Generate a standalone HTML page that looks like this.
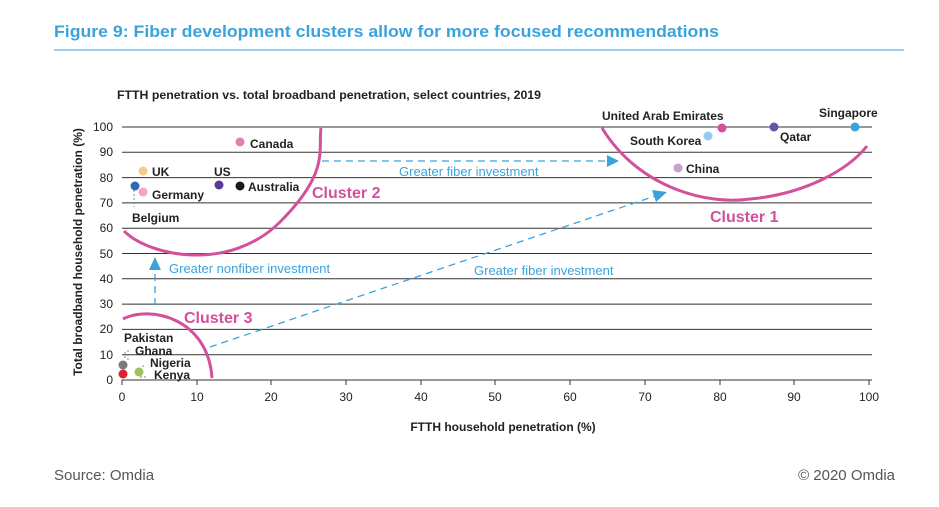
<!DOCTYPE html>
<html><head><meta charset="utf-8"><style>
body{margin:0;background:#fff;font-family:"Liberation Sans",sans-serif}
</style></head><body>
<svg width="939" height="502" xmlns="http://www.w3.org/2000/svg" font-family="Liberation Sans, sans-serif">
<text x="54" y="37" font-size="17" font-weight="bold" fill="#3aa3dc" textLength="665" lengthAdjust="spacingAndGlyphs">Figure 9: Fiber development clusters allow for more focused recommendations</text>
<line x1="54" y1="50" x2="904" y2="50" stroke="#3aa3dc" stroke-width="1"/>
<text x="117" y="99" font-size="11.5" font-weight="bold" fill="#222" textLength="424" lengthAdjust="spacingAndGlyphs">FTTH penetration vs. total broadband penetration, select countries, 2019</text>
<g stroke="#333" stroke-width="1">
<line x1="122" y1="127" x2="872" y2="127"/><line x1="122" y1="152.3" x2="872" y2="152.3"/>
<line x1="122" y1="177.6" x2="872" y2="177.6"/><line x1="122" y1="202.9" x2="872" y2="202.9"/>
<line x1="122" y1="228.2" x2="872" y2="228.2"/><line x1="122" y1="253.5" x2="872" y2="253.5"/>
<line x1="122" y1="278.8" x2="872" y2="278.8"/><line x1="122" y1="304.1" x2="872" y2="304.1"/>
<line x1="122" y1="329.4" x2="872" y2="329.4"/><line x1="122" y1="354.7" x2="872" y2="354.7"/>
<line x1="122" y1="380" x2="872" y2="380"/>
</g>
<g stroke="#333" stroke-width="1">
<line x1="122" y1="380" x2="122" y2="385"/><line x1="197" y1="380" x2="197" y2="385"/><line x1="271" y1="380" x2="271" y2="385"/><line x1="346" y1="380" x2="346" y2="385"/><line x1="421" y1="380" x2="421" y2="385"/><line x1="495" y1="380" x2="495" y2="385"/><line x1="570" y1="380" x2="570" y2="385"/><line x1="645" y1="380" x2="645" y2="385"/><line x1="720" y1="380" x2="720" y2="385"/><line x1="794" y1="380" x2="794" y2="385"/><line x1="869" y1="380" x2="869" y2="385"/>
</g>
<g font-size="12" fill="#222" text-anchor="end">
<text x="113" y="131">100</text><text x="113" y="156">90</text><text x="113" y="182">80</text><text x="113" y="207">70</text><text x="113" y="232">60</text><text x="113" y="258">50</text><text x="113" y="283">40</text><text x="113" y="308">30</text><text x="113" y="333">20</text><text x="113" y="359">10</text><text x="113" y="384">0</text>
</g>
<g font-size="12" fill="#222" text-anchor="middle">
<text x="122" y="401">0</text><text x="197" y="401">10</text><text x="271" y="401">20</text><text x="346" y="401">30</text><text x="421" y="401">40</text><text x="495" y="401">50</text><text x="570" y="401">60</text><text x="645" y="401">70</text><text x="720" y="401">80</text><text x="794" y="401">90</text><text x="869" y="401">100</text>
</g>
<text x="503" y="431" font-size="12" font-weight="bold" fill="#222" text-anchor="middle">FTTH household penetration (%)</text>
<text transform="translate(82,252) rotate(-90)" font-size="12" font-weight="bold" fill="#222" text-anchor="middle">Total broadband household penetration (%)</text>
<g fill="none" stroke="#d4509a" stroke-width="3">
<path d="M124,231 C150,257 230,272 280,222 S318,150 321,128"/>
<path d="M602,128 C640,190 710,205 750,199 C805,194 848,170 867,146"/>
<path d="M123,319 C150,305 208,318 212,378"/>
</g>
<g font-size="16" font-weight="bold" fill="#d4509a"><text x="312" y="198">Cluster 2</text><text x="710" y="222">Cluster 1</text><text x="184" y="323">Cluster 3</text></g>
<g stroke="#3aa3dc" stroke-width="1.3" stroke-dasharray="7,5" fill="none">
<line x1="322" y1="161" x2="607" y2="161"/>
<line x1="210" y1="347" x2="655" y2="196"/>
<line x1="155" y1="305" x2="155" y2="270"/>
</g>
<g fill="#3aa3dc">
<polygon points="619,161 607,155 607,167"/>
<polygon points="667,192 652,190 656,202"/>
<polygon points="155,257 149,270 161,270"/>
</g>
<g font-size="13" fill="#3aa3dc"><text x="399" y="176">Greater fiber investment</text><text x="474" y="275">Greater fiber investment</text><text x="169" y="273">Greater nonfiber investment</text></g>
<g stroke="#888" stroke-width="1" stroke-dasharray="2,2" fill="none">
<line x1="134" y1="190" x2="134" y2="207"/>
<line x1="125" y1="352" x2="125" y2="360"/>
<line x1="128" y1="350" x2="128" y2="362"/>
<line x1="140" y1="370" x2="145" y2="364"/>
<line x1="140" y1="377" x2="148" y2="377"/>
</g>
<circle cx="240" cy="142" r="4.5" fill="#e27fb3"/>
<circle cx="143" cy="171" r="4.5" fill="#f7c98a"/>
<circle cx="135" cy="186" r="4.5" fill="#2d6ab3"/>
<circle cx="143" cy="192" r="4.5" fill="#f4a6c8"/>
<circle cx="219" cy="185" r="4.5" fill="#5a3b92"/>
<circle cx="240" cy="186" r="4.5" fill="#1a1a1a"/>
<circle cx="123" cy="365" r="4.5" fill="#7a7a7a"/>
<circle cx="123" cy="374" r="4.5" fill="#e02030"/>
<circle cx="139" cy="372" r="4.5" fill="#9fc35a"/>
<circle cx="708" cy="136" r="4.5" fill="#8ccdf0"/>
<circle cx="722" cy="128" r="4.5" fill="#d4509a"/>
<circle cx="774" cy="127" r="4.5" fill="#6a52a8"/>
<circle cx="855" cy="127" r="4.5" fill="#3aa3dc"/>
<circle cx="678" cy="168" r="4.5" fill="#c9a0c9"/>
<g font-size="12" font-weight="bold" fill="#222">
<text x="250" y="148">Canada</text><text x="152" y="176">UK</text><text x="214" y="176">US</text>
<text x="152" y="199">Germany</text><text x="248" y="191">Australia</text><text x="132" y="222">Belgium</text>
<text x="124" y="342">Pakistan</text><text x="135" y="355">Ghana</text><text x="150" y="367">Nigeria</text><text x="154" y="379">Kenya</text>
<text x="602" y="120">United Arab Emirates</text><text x="819" y="117">Singapore</text>
<text x="630" y="145">South Korea</text><text x="780" y="141">Qatar</text><text x="686" y="173">China</text>
</g>
<text x="54" y="480" font-size="15" fill="#555">Source: Omdia</text>
<text x="895" y="480" font-size="15" fill="#555" text-anchor="end">© 2020 Omdia</text>
</svg>
</body></html>
